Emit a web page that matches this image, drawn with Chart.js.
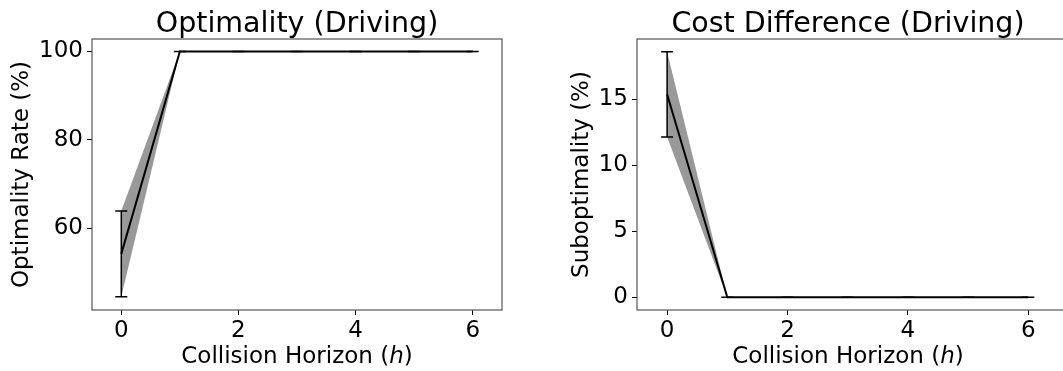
<!DOCTYPE html>
<html>
<head>
<meta charset="utf-8">
<script src="https://cdn.jsdelivr.net/npm/chart.js@4.4.1/dist/chart.umd.min.js"></script>
<style>
  html, body { margin: 0; padding: 0; background: #fff; overflow: hidden; }
  #wrap { position: relative; width: 1063px; height: 371px; overflow: hidden; }
  canvas { position: absolute; top: 0; }
</style>
</head>
<body>
<div id="wrap">
  <canvas id="opt-chart" width="531" height="371" style="left:0"></canvas>
  <canvas id="cost-chart" width="550" height="371" style="left:531px"></canvas>
</div>
<script>
// ---- data ----
const horizons = [0, 1, 2, 3, 4, 5, 6];
const optMean = [54.2, 100, 100, 100, 100, 100, 100];
const optStd = [9.7, 0, 0, 0, 0, 0, 0];
const costMean = [15.38, 0, 0, 0, 0, 0, 0];
const costStd = [3.23, 0, 0, 0, 0, 0, 0];
const xTicks = [0, 2, 4, 6];
const optTicks = [60, 80, 100];
const costTicks = [0, 5, 10, 15];

const FONT = 'DejaVu Sans';
Chart.defaults.font.family = FONT;
Chart.defaults.color = '#000';

const pts = (ys) => horizons.map((x, i) => ({ x: x, y: ys[i] }));
const plus = (m, s) => m.map((v, i) => v + s[i]);
const minus = (m, s) => m.map((v, i) => v - s[i]);

// box, title, x label with italic h, error bars
const decor = {
  id: 'decor',
  afterDatasetsDraw(chart, args, opts) {
    const { ctx, chartArea: a, scales: { x, y } } = chart;
    ctx.save();
    // error bars
    ctx.strokeStyle = '#000';
    ctx.lineWidth = 1.5;
    opts.mean.forEach((m, i) => {
      const px = x.getPixelForValue(horizons[i]);
      const y1 = y.getPixelForValue(m - opts.std[i]);
      const y2 = y.getPixelForValue(m + opts.std[i]);
      ctx.beginPath();
      ctx.moveTo(px, y1); ctx.lineTo(px, y2);
      ctx.moveTo(px - 6, y1); ctx.lineTo(px + 6, y1);
      ctx.moveTo(px - 6, y2); ctx.lineTo(px + 6, y2);
      ctx.stroke();
    });
    // axes box
    ctx.strokeStyle = '#555';
    ctx.lineWidth = 1.2;
    ctx.strokeRect(a.left, a.top, a.right - a.left, a.bottom - a.top);
    // title, centred on the visible part of the axes
    const cx = opts.centerX || (a.left + a.right) / 2;
    ctx.fillStyle = '#000';
    ctx.textAlign = 'center';
    ctx.textBaseline = 'alphabetic';
    ctx.font = '28.5px "' + FONT + '"';
    ctx.fillText(opts.title, cx, 31.5);
    // x label: Collision Horizon (h)
    const parts = [['Collision Horizon (', ''], ['h', 'italic '], [')', '']];
    let total = 0;
    parts.forEach(p => { ctx.font = p[1] + '23px "' + FONT + '"'; total += ctx.measureText(p[0]).width; });
    let sx = cx - total / 2;
    ctx.textAlign = 'left';
    parts.forEach(p => {
      ctx.font = p[1] + '23px "' + FONT + '"';
      ctx.fillText(p[0], sx, 363);
      sx += ctx.measureText(p[0]).width;
    });
    ctx.restore();
  }
};

function makeChart(canvas, mean, std, cfg) {
  return new Chart(canvas, {
    type: 'line',
    data: {
      datasets: [
        { data: pts(mean), borderColor: '#000', borderWidth: 2, pointRadius: 0, fill: false, order: 0 },
        { data: pts(plus(mean, std)), borderWidth: 0, pointRadius: 0, backgroundColor: '#999', fill: '+1', order: 1 },
        { data: pts(minus(mean, std)), borderWidth: 0, pointRadius: 0, fill: false, order: 2 }
      ]
    },
    options: {
      responsive: false,
      animation: false,
      layout: { padding: { top: 39, right: cfg.padRight, left: 0, bottom: 0 } },
      plugins: {
        legend: { display: false },
        tooltip: { enabled: false },
        decor: { title: cfg.title, mean: mean, std: std, centerX: cfg.centerX }
      },
      scales: {
        x: {
          type: 'linear',
          min: -0.5,
          max: cfg.xMax,
          afterBuildTicks: (s) => { s.ticks = xTicks.map(v => ({ value: v })); },
          afterFit: (s) => { s.height = 61; },
          grid: { drawOnChartArea: false, tickLength: 5, color: '#000' },
          border: { display: false },
          ticks: { font: { size: 23 }, padding: 2, maxRotation: 0 }
        },
        y: {
          min: cfg.yMin,
          max: cfg.yMax,
          afterBuildTicks: (s) => { s.ticks = cfg.yTicks.map(v => ({ value: v })); },
          afterFit: (s) => { s.width = cfg.yWidth; },
          grid: { drawOnChartArea: false, tickLength: 5, color: '#000' },
          border: { display: false },
          ticks: { font: { size: 23 }, padding: 4 },
          title: { display: true, text: cfg.yLabel, font: { size: 23 }, padding: { top: cfg.yTitlePad, bottom: 0 } }
        }
      }
    },
    plugins: [decor]
  });
}

makeChart(document.getElementById('opt-chart'), optMean, optStd, {
  title: 'Optimality (Driving)', yLabel: 'Optimality Rate (%)',
  yMin: 41.5, yMax: 102.8, yTicks: optTicks, yWidth: 92, padRight: 29, xMax: 6.5, yTitlePad: 8
});
makeChart(document.getElementById('cost-chart'), costMean, costStd, {
  title: 'Cost Difference (Driving)', yLabel: 'Suboptimality (%)',
  yMin: -0.96, yMax: 19.57, yTicks: costTicks, yWidth: 106, padRight: 13, xMax: 6.66, yTitlePad: 37,
  centerX: 317
});
</script>
</body>
</html>
